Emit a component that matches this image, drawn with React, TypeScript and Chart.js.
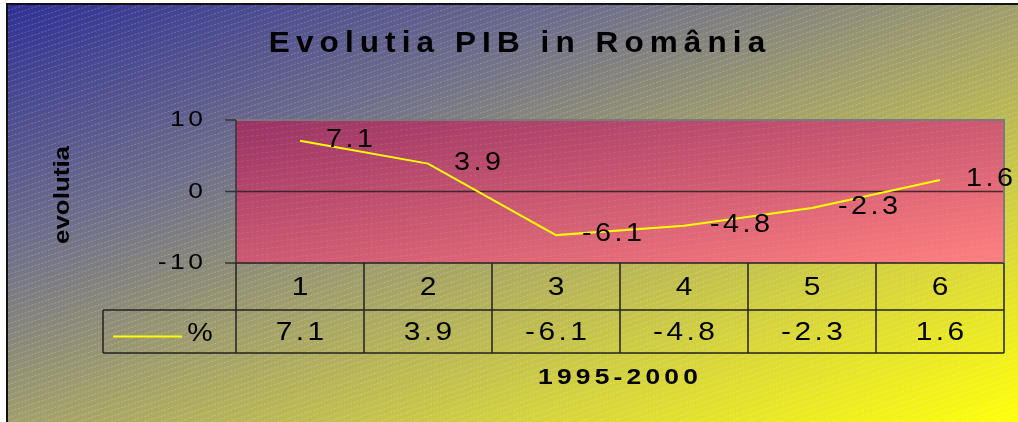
import React, { useEffect, useRef } from 'react';
import { Chart, registerables } from 'chart.js';

Chart.register(...registerables);

// ---- data ----
const categories = ['1', '2', '3', '4', '5', '6'];
const seriesName = '%';
const values = [7.1, 3.9, -6.1, -4.8, -2.3, 1.6];
const yTicks = [10, 0, -10];
const chartTitle = 'Evolutia PIB in România';
const yTitle = 'evolutia';
const xTitle = '1995-2000';

const FONT = '"Liberation Sans", Arial, sans-serif';

type TOpts = {
  size: number;
  bold?: boolean;
  sx?: number;
  sp?: number;
  align?: 'left' | 'center' | 'right';
  baseline?: CanvasTextBaseline;
  color?: string;
};

function drawText(ctx: CanvasRenderingContext2D, text: string, x: number, y: number, o: TOpts) {
  const sx = o.sx ?? 1;
  const sp = o.sp ?? 0;
  ctx.save();
  ctx.font = `${o.bold ? 'bold ' : ''}${o.size}px ${FONT}`;
  ctx.fillStyle = o.color ?? '#000';
  ctx.textBaseline = o.baseline ?? 'middle';
  ctx.textAlign = 'left';
  const chars = Array.from(text);
  const ws = chars.map((c) => ctx.measureText(c).width);
  const total = (ws.reduce((a, b) => a + b, 0) + sp * (chars.length - 1)) * sx;
  let start = x;
  if (o.align === 'center') start = x - total / 2;
  else if (o.align === 'right') start = x - total;
  ctx.translate(start, y);
  ctx.scale(sx, 1);
  let cx = 0;
  chars.forEach((c, i) => {
    ctx.fillText(c, cx, 0);
    cx += ws[i] + sp;
  });
  ctx.restore();
}

function diagGrad(
  ctx: CanvasRenderingContext2D, x0: number, y0: number, W: number, H: number,
  stops: [number, string][]
) {
  const lam = 2 / (1 / (W * W) + 1 / (H * H));
  const g = ctx.createLinearGradient(x0, y0, x0 + lam / W, y0 + lam / H);
  stops.forEach(([t, c]) => g.addColorStop(t, c));
  return g;
}

function hatch(
  ctx: CanvasRenderingContext2D,
  x0: number, y0: number, x1: number, y1: number,
  slope: number, gap: number, color: string, dash: number[], lw: number
) {
  ctx.save();
  ctx.beginPath();
  ctx.rect(x0, y0, x1 - x0, y1 - y0);
  ctx.clip();
  ctx.strokeStyle = color;
  ctx.lineWidth = lw;
  ctx.setLineDash(dash);
  const rise = slope * (x1 - x0);
  for (let c = y0; c <= y1 + rise; c += gap) {
    ctx.beginPath();
    ctx.moveTo(x0, c);
    ctx.lineTo(x1, c - rise);
    ctx.stroke();
  }
  ctx.restore();
}

const decorPlugin = {
  id: 'decor',
  beforeDraw(chart: any) {
    const ctx: CanvasRenderingContext2D = chart.ctx;
    const { left, right, top, bottom } = chart.chartArea;
    const W = chart.width;
    const H = chart.height;
    ctx.save();
    ctx.fillStyle = '#fff';
    ctx.fillRect(0, 0, W, H);
    // outer background
    const bx = 8, by = 5;
    ctx.fillStyle = diagGrad(ctx, bx, by, W - bx, H - by, [
      [0, 'rgb(48,48,150)'],
      [0.3, 'rgb(112,112,138)'],
      [0.5, 'rgb(160,158,108)'],
      [0.75, 'rgb(212,210,62)'],
      [1, 'rgb(255,255,10)'],
    ]);
    ctx.fillRect(bx, by, W - bx, H - by);
    hatch(ctx, bx, by, W, H, 0.33, 5.5, 'rgba(255,255,255,0.28)', [2, 1.5], 0.8);
    // frame
    ctx.fillStyle = '#111';
    ctx.fillRect(6, 3, W - 6, 2);
    ctx.fillRect(6, 3, 2, H - 3);

    // plot area
    ctx.fillStyle = diagGrad(ctx, left, top, right - left, bottom - top, [
      [0, '#993366'],
      [1, '#FF8080'],
    ]);
    ctx.fillRect(left, top, right - left, bottom - top);
    hatch(ctx, left, top, right, bottom, 0.12, 6, 'rgba(255,190,140,0.2)', [3, 2], 0.8);

    // title
    drawText(ctx, chartTitle, 517, 52, { size: 30, bold: true, sx: 1.05, sp: 5.8, align: 'center', baseline: 'alphabetic' });

    // y title
    ctx.save();
    ctx.translate(63, 195);
    ctx.rotate(-Math.PI / 2);
    drawText(ctx, yTitle, 0, 0, { size: 22, bold: true, sx: 1.18, align: 'center', baseline: 'middle' });
    ctx.restore();

    // y ticks
    const ys = chart.scales.y;
    ctx.strokeStyle = '#333';
    ctx.lineWidth = 1.5;
    yTicks.forEach((v) => {
      const y = ys.getPixelForValue(v);
      ctx.beginPath();
      ctx.moveTo(left - 11, y);
      ctx.lineTo(left, y);
      ctx.stroke();
      drawText(ctx, String(v), left - 33, y, { size: 22, sx: 1.2, sp: 3, align: 'right' });
    });

    // data table
    const xs = chart.scales.x;
    const centers = categories.map((_, i) => xs.getPixelForValue(i));
    const half = categories.length > 1 ? (centers[1] - centers[0]) / 2 : (right - left) / 2;
    const edges = [centers[0] - half, ...centers.map((c) => c + half)];
    const r1 = bottom;
    const r2 = bottom + 47;
    const r3 = bottom + 90;
    const legLeft = 103;
    ctx.strokeStyle = '#222';
    ctx.lineWidth = 1.5;
    ctx.beginPath();
    ctx.moveTo(left, r1); ctx.lineTo(right, r1);
    ctx.moveTo(legLeft, r2); ctx.lineTo(right, r2);
    ctx.moveTo(legLeft, r3); ctx.lineTo(right, r3);
    ctx.moveTo(legLeft, r2); ctx.lineTo(legLeft, r3);
    edges.forEach((e) => {
      ctx.moveTo(e, r1);
      ctx.lineTo(e, r3);
    });
    ctx.stroke();

    categories.forEach((c, i) => {
      drawText(ctx, c, centers[i], (r1 + r2) / 2 + 1, { size: 26, sx: 1.15, align: 'center' });
      drawText(ctx, String(values[i]), centers[i], (r2 + r3) / 2 + 1, { size: 26, sx: 1.15, sp: 3, align: 'center' });
    });
    // legend key
    ctx.strokeStyle = '#FFFF00';
    ctx.lineWidth = 2;
    ctx.beginPath();
    ctx.moveTo(113, (r2 + r3) / 2 + 5);
    ctx.lineTo(182, (r2 + r3) / 2 + 5);
    ctx.stroke();
    drawText(ctx, seriesName, 200, (r2 + r3) / 2 + 2, { size: 26, sx: 1.1, align: 'center' });

    // x title
    drawText(ctx, xTitle, 618, 378, { size: 22, bold: true, sx: 1.2, sp: 3.5, align: 'center' });
    ctx.restore();
  },
  beforeDatasetsDraw(chart: any) {
    const ctx: CanvasRenderingContext2D = chart.ctx;
    const { left, right, top, bottom } = chart.chartArea;
    const ys = chart.scales.y;
    ctx.save();
    // zero line
    const y0 = ys.getPixelForValue(0);
    ctx.strokeStyle = 'rgba(40,30,30,0.85)';
    ctx.lineWidth = 1.5;
    ctx.beginPath();
    ctx.moveTo(left, y0);
    ctx.lineTo(right, y0);
    ctx.stroke();
    // plot border
    ctx.strokeStyle = '#7a7a7a';
    ctx.lineWidth = 2;
    ctx.beginPath();
    ctx.moveTo(left, top);
    ctx.lineTo(right, top);
    ctx.lineTo(right, bottom);
    ctx.stroke();
    ctx.strokeStyle = '#333';
    ctx.lineWidth = 1.5;
    ctx.beginPath();
    ctx.moveTo(left, top);
    ctx.lineTo(left, bottom);
    ctx.stroke();
    ctx.restore();
  },
  afterDatasetsDraw(chart: any) {
    const ctx: CanvasRenderingContext2D = chart.ctx;
    const meta = chart.getDatasetMeta(0);
    meta.data.forEach((pt: any, i: number) => {
      drawText(ctx, String(values[i]), pt.x + 26, pt.y - 1, { size: 25, sx: 1.15, sp: 3, align: 'left' });
    });
  },
};

export default function App() {
  const ref = useRef<HTMLCanvasElement | null>(null);
  useEffect(() => {
    if (!ref.current) return;
    const chart = new Chart(ref.current, {
      type: 'line',
      data: {
        labels: categories,
        datasets: [
          {
            label: seriesName,
            data: values,
            borderColor: '#FFFF00',
            borderWidth: 2,
            pointRadius: 0,
            tension: 0,
            fill: false,
          },
        ],
      },
      options: {
        responsive: false,
        animation: false,
        layout: { padding: { left: 236, right: 14, top: 120, bottom: 159 } },
        plugins: {
          legend: { display: false },
          title: { display: false },
          tooltip: { enabled: false },
        },
        scales: {
          x: { type: 'category', offset: true, display: false },
          y: { type: 'linear', min: -10, max: 10, display: false, ticks: { stepSize: 10 } },
        },
      },
      plugins: [decorPlugin],
    } as any);
    return () => chart.destroy();
  }, []);
  return (
    <div style={{ position: 'absolute', left: 0, top: 0, width: 1018, height: 422 }}>
      <canvas ref={ref} width={1018} height={422} style={{ display: 'block' }} />
    </div>
  );
}
